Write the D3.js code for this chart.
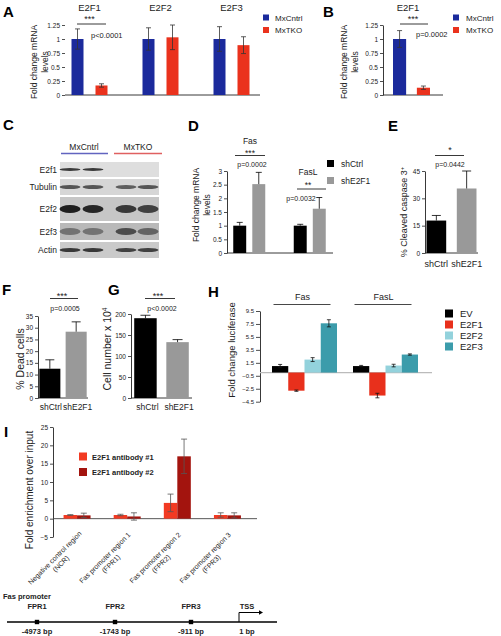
<!DOCTYPE html>
<html><head><meta charset="utf-8">
<script src="https://cdn.jsdelivr.net/npm/d3@7"></script>
<style>body{margin:0;background:#fff}svg{display:block;font-family:"Liberation Sans",Arial,sans-serif}</style>
</head><body><svg id="c" width="501" height="636"></svg>
<script>
// ---------------- DATA ----------------
// Panel A
const aGenes = ["E2F1","E2F2","E2F3"];
const aGroups = ["MxCntrl","MxTKO"];
const aMean = [[1.00,0.17],[1.00,1.03],[1.00,0.89]];
const aErr = [[0.18,0.03],[0.20,0.22],[0.22,0.15]];
const aTicks = [0,0.25,0.5,0.75,1,1.25];
const aP = "p<0.0001";
// Panel B
const bGene = "E2F1";
const bMean = [1.00,0.13];
const bErr = [0.15,0.03];
const bP = "p=0.0002";
// Panel C (western blot)
const cGroups = ["MxCntrl","MxTKO"];
const cRows = ["E2f1","Tubulin","E2f2","E2f3","Actin"];
const cBands = [[0.85,0.85,0,0],[0.7,0.7,0.65,0.7],[1,0.95,0.85,0.8],[0.45,0.45,0.7,0.55],[0.85,0.85,0.8,0.8]];
// Panel D
const dGenes = ["Fas","FasL"];
const dGroups = ["shCtrl","shE2F1"];
const dMean = [[1.00,2.52],[1.00,1.62]];
const dErr = [[0.12,0.43],[0.05,0.41]];
const dTicks = [0,0.5,1,1.5,2,2.5,3];
const dStars = ["***","**"];
const dP = ["p=0.0002","p=0.0032"];
// Panel E
const eGroups = ["shCtrl","shE2F1"];
const eMean = [17.8,35.4];
const eErr = [2.8,9.6];
const eTicks = [0,15,30,45];
// Panel F
const fGroups = ["shCtrl","shE2F1"];
const fMean = [12.5,28.3];
const fErr = [3.8,4.2];
const fTicks = [0,5,10,15,20,25,30,35];
// Panel G
const gGroups = ["shCtrl","shE2F1"];
const gMean = [190,133];
const gErr = [7,6];
const gTicks = [0,50,100,150,200];
// Panel H
const hGenes = ["Fas","FasL"];
const hSeries = ["EV","E2F1","E2F2","E2F3"];
const hMean = [[1.0,-2.8,2.0,7.6],[1.0,-3.55,1.08,2.78]];
const hErr = [[0.25,0.1,0.3,0.55],[0.1,0.35,0.2,0.1]];
const hTicks = [-4.5,-2.5,-0.5,1.5,3.5,5.5,7.5,9.5];
// Panel I
const iRegions = ["Negative control region","Fas promoter region 1","Fas promoter region 2","Fas promoter region 3"];
const iAbbr = ["(NCR)","(FPR1)","(FPR2)","(FPR3)"];
const iSeries = ["E2F1 antibody #1","E2F1 antibody #2"];
const iMean = [[1.0,0.9],[1.0,0.6],[4.3,17.0],[1.0,0.9]];
const iErr = [[0.1,0.6],[0.2,1.0],[2.4,4.7],[0.6,0.7]];
const iTicks = [-5,0,5,10,15,20,25];
// Promoter diagram
const pSites = ["FPR1","FPR2","FPR3","TSS"];
const pPos = [-4973,-1743,-911,1];

// ---------------- HELPERS ----------------
const svg = d3.select("#c");
const INK = "#222";
function txt(t,x,y,size,o={}){
  const e=svg.append("text").attr("x",x).attr("y",y).attr("font-size",size)
    .attr("text-anchor",o.anchor||"start").attr("fill",o.fill||INK);
  if(o.bold) e.attr("font-weight","bold");
  return e.text(t);
}
function letter(t,x,y){ txt(t,x,y,15,{bold:true,fill:"#000"}); }
function vlabel(lines,x,y,size,gap){
  const e=svg.append("text").attr("transform",`translate(${x},${y}) rotate(-90)`)
    .attr("text-anchor","middle").attr("font-size",size).attr("fill",INK);
  lines.forEach((l,i)=>e.append("tspan").attr("x",0).attr("dy",i?gap:0).text(l));
  return e;
}
function yAxis(y,x,ticks,fmt,size,domain=true,tick=3){
  const g=svg.append("g").attr("transform",`translate(${x},0)`)
    .call(d3.axisLeft(y).tickValues(ticks).tickFormat(fmt).tickSizeOuter(0).tickSizeInner(tick).tickPadding(2));
  g.attr("font-family",null).attr("font-size",size);
  g.selectAll("text").attr("fill",INK);
  g.selectAll("line").attr("stroke",INK).attr("stroke-width",0.8);
  g.select(".domain").attr("stroke",domain?INK:"none").attr("stroke-width",0.9);
  return g;
}
function hline(x1,x2,y,color=INK,w=0.9){ svg.append("line").attr("x1",x1).attr("x2",x2).attr("y1",y).attr("y2",y).attr("stroke",color).attr("stroke-width",w); }
function errBar(cx,yHi,yLo,cap,color=INK,both=true,w=0.8){
  svg.append("line").attr("x1",cx).attr("x2",cx).attr("y1",yHi).attr("y2",yLo).attr("stroke",color).attr("stroke-width",w);
  hline(cx-cap/2,cx+cap/2,yHi,color,w);
  if(both) hline(cx-cap/2,cx+cap/2,yLo,color,w);
}
function bar(x,w,y0,y1,fill){
  svg.append("rect").attr("x",x).attr("width",w).attr("y",Math.min(y0,y1)).attr("height",Math.abs(y1-y0)).attr("fill",fill);
}
const fmtA = d=>d3.format("")(d);

// ---------------- PANEL A ----------------
letter("A",3,17);
const aColors=["#1b2a9c","#ea321d"];
const aY=d3.scaleLinear().domain([0,1.25]).range([95,25]);
const aX=d3.scaleBand().domain(aGenes).range([54,267]);
yAxis(aY,65,aTicks,fmtA,6.5,false);
hline(65,260,aY(0));
aGenes.forEach((gn,i)=>{
  const c=aX(gn)+aX.bandwidth()/2;
  const inner=d3.scaleBand().domain(aGroups).range([c-18,c+18]).paddingInner(0.5);
  aGroups.forEach((gr,j)=>{
    const v=aMean[i][j];
    bar(inner(gr),inner.bandwidth(),aY(0),aY(v),aColors[j]);
    errBar(inner(gr)+inner.bandwidth()/2,aY(v+aErr[i][j]),aY(v-aErr[i][j]),5,"#333");
  });
  txt(gn,c,10.5,9.5,{anchor:"middle"});
});
txt("***",aX("E2F1")+aX.bandwidth()/2,22,9,{anchor:"middle"});
hline(77,106,24);
txt(aP,91,38,7.5);
vlabel(["Fold change mRNA","levels"],37,62,8.5,10.5);
aGroups.forEach((gr,j)=>{
  svg.append("rect").attr("x",263).attr("y",14.5+j*12.5).attr("width",6).attr("height",6).attr("fill",aColors[j]);
  txt(gr,275,20.5+j*12.5,8);
});

// ---------------- PANEL B ----------------
letter("B",323,17);
const bY=aY.copy();
const bX=d3.scaleBand().domain(aGroups).range([393,430]).paddingInner(0.45);
yAxis(bY,383,aTicks,fmtA,6.5,true);
hline(383,443,bY(0));
aGroups.forEach((gr,j)=>{
  const v=bMean[j];
  bar(bX(gr),bX.bandwidth(),bY(0),bY(v),aColors[j]);
  errBar(bX(gr)+bX.bandwidth()/2,bY(v+bErr[j]),bY(v-bErr[j]),5,"#333");
});
txt(bGene,408,10.5,9.5,{anchor:"middle"});
txt("***",413,22,9,{anchor:"middle"});
hline(400,428,24);
txt(bP,416,37,7.5);
vlabel(["Fold change mRNA","levels"],347,62,8.5,10.5);
aGroups.forEach((gr,j)=>{
  svg.append("rect").attr("x",453).attr("y",14.5+j*12.5).attr("width",6).attr("height",6).attr("fill",aColors[j]);
  txt(gr,466,20.5+j*12.5,8);
});

// ---------------- PANEL C ----------------
letter("C",3,130);
const cRowTop=[162,179,197,223,242], cRowH=[15,16,24,17,16], cBandH=[3,4,8,7,4];
const cBg=["#dedede","#d6d6d6","#c6c6c6","#b9b9b9","#cacaca"];
const lanes=[70,93,126,148];
txt(cGroups[0],84,150,8.5,{anchor:"middle"});
txt(cGroups[1],138,150,8.5,{anchor:"middle"});
hline(61,108,153.5,"#6264c0",1.3);
hline(114,162,153.5,"#e06060",1.3);
cRows.forEach((r,i)=>{
  svg.append("rect").attr("x",60).attr("y",cRowTop[i]).attr("width",99).attr("height",cRowH[i]).attr("fill",cBg[i]);
  const cy=cRowTop[i]+cRowH[i]/2;
  cBands[i].forEach((b,k)=>{
    if(b>0) svg.append("ellipse").attr("cx",lanes[k]).attr("cy",cy).attr("rx",10.5).attr("ry",cBandH[i]/2)
      .attr("fill","#1e1e1e").attr("opacity",b);
  });
  txt(r,57,cy+3,8.5,{anchor:"end"});
});

// ---------------- PANEL D ----------------
letter("D",188,131);
const dColors=["#000","#999"];
const dY=d3.scaleLinear().domain([0,3]).range([253,171]);
const dX=d3.scaleBand().domain(dGenes).range([219,340]);
yAxis(dY,227,dTicks,fmtA,6.5,true);
hline(227,333,dY(0));
dGenes.forEach((gn,i)=>{
  const c=dX(gn)+dX.bandwidth()/2;
  const inner=d3.scaleBand().domain(dGroups).range([c-16,c+16]).paddingInner(0.32);
  dGroups.forEach((gr,j)=>{
    const v=dMean[i][j];
    bar(inner(gr),inner.bandwidth(),dY(0),dY(v),dColors[j]);
    errBar(inner(gr)+inner.bandwidth()/2,dY(v+dErr[i][j]),dY(v),6,"#000",false);
  });
});
txt("Fas",250,143.5,8.5,{anchor:"middle"});
txt(dStars[0],250,156,8.5,{anchor:"middle"});
hline(235,265,155.5);
txt(dP[0],252,167,7,{anchor:"middle"});
txt("FasL",308,175,8.5,{anchor:"middle"});
txt(dStars[1],308,188,8.5,{anchor:"middle"});
hline(297,326,189);
txt(dP[1],301,201,7,{anchor:"middle"});
vlabel(["Fold change mRNA","levels"],199,205,8.5,11);
dGroups.forEach((gr,j)=>{
  svg.append("rect").attr("x",327).attr("y",160+j*17).attr("width",7).attr("height",7).attr("fill",dColors[j]);
  txt(gr,341,166.5+j*17,8.5);
});

// ---------------- PANEL E ----------------
letter("E",388,131);
const eY=d3.scaleLinear().domain([0,45]).range([253,171]);
const eX=d3.scaleBand().domain(eGroups).range([425,478]).paddingInner(0.35).paddingOuter(0.05);
yAxis(eY,425,eTicks,fmtA,6.5,true);
hline(425,478,eY(0));
eGroups.forEach((gr,j)=>{
  bar(eX(gr),eX.bandwidth(),eY(0),eY(eMean[j]),dColors[j]);
  errBar(eX(gr)+eX.bandwidth()/2,eY(eMean[j]+eErr[j]),eY(eMean[j]),9,"#000",false);
  txt(gr,eX(gr)+eX.bandwidth()/2,267,9,{anchor:"middle"});
});
txt("*",450,153,9,{anchor:"middle"});
hline(435,464,155.5);
txt("p=0.0442",450,167,7,{anchor:"middle"});
{
  const e=vlabel(["% Cleaved caspase 3"],407,212,9,0);
  e.append("tspan").attr("dy",-3.5).attr("font-size",6).text("+");
}

// ---------------- PANEL F ----------------
letter("F",2,295);
const fY=d3.scaleLinear().domain([0,35]).range([398,316]);
const fX=d3.scaleBand().domain(fGroups).range([38,88]).paddingInner(0.2).paddingOuter(0.05);
yAxis(fY,38,fTicks,fmtA,6.5,true);
hline(38,88,fY(0));
fGroups.forEach((gr,j)=>{
  bar(fX(gr),fX.bandwidth(),fY(0),fY(fMean[j]),dColors[j]);
  errBar(fX(gr)+fX.bandwidth()/2,fY(fMean[j]+fErr[j]),fY(fMean[j]),9,"#000",false);
  txt(gr,fX(gr)+fX.bandwidth()/2+(j?1.5:1),410,8.5,{anchor:"middle"});
});
txt("***",62,299,9,{anchor:"middle"});
hline(50,78,298.5);
txt("p=0.0005",65,311,7,{anchor:"middle"});
vlabel(["% Dead cells"],24,359,10.5,0);

// ---------------- PANEL G ----------------
letter("G",108,295);
const gY=d3.scaleLinear().domain([0,200]).range([398,314]);
const gX=d3.scaleBand().domain(gGroups).range([131,192]).paddingInner(0.3).paddingOuter(0.1);
yAxis(gY,131,gTicks,fmtA,6.5,true);
hline(131,192,gY(0));
gGroups.forEach((gr,j)=>{
  bar(gX(gr),gX.bandwidth(),gY(0),gY(gMean[j]),dColors[j]);
  errBar(gX(gr)+gX.bandwidth()/2,gY(gMean[j]+gErr[j]),gY(gMean[j]),10,"#000",false);
  txt(gr,gX(gr)+gX.bandwidth()/2+(j?1.5:2),410,8.5,{anchor:"middle"});
});
txt("***",158,299,9,{anchor:"middle"});
hline(145,175,298.5);
txt("p<0.0002",162,311,7,{anchor:"middle"});
{
  const e=vlabel(["Cell number x 10"],111,349,10.5,0);
  e.append("tspan").attr("dy",-4).attr("font-size",6.5).text("4");
}

// ---------------- PANEL H ----------------
letter("H",208,297);
const hColors=["#000","#e8301c","#93d2dc","#3c9cab"];
const hY=d3.scaleLinear().domain([-4.5,9.5]).range([401.7,311]);
const hX=d3.scaleBand().domain(hGenes).range([264,426]);
yAxis(hY,260,hTicks,d3.format(".1f"),6,true,4);
hline(260,432,hY(0),"#bbb",1.2);
hGenes.forEach((gn,i)=>{
  const c=hX(gn)+hX.bandwidth()/2;
  const inner=d3.scaleBand().domain(hSeries).range([c-32.5,c+32.5]);
  hSeries.forEach((s,j)=>{
    const v=hMean[i][j];
    bar(inner(s),inner.bandwidth(),hY(0),hY(v),hColors[j]);
    errBar(inner(s)+inner.bandwidth()/2,hY(v+hErr[i][j]),hY(v-hErr[i][j]),4,"#111");
  });
  txt(gn,c-2,300,9,{anchor:"middle"});
  hline(c-31,c+26,304.5,"#333",0.9);
});
vlabel(["Fold change luciferase"],235,350,9.5,0);
hSeries.forEach((s,j)=>{
  svg.append("rect").attr("x",445).attr("y",309.5+j*11).attr("width",8).attr("height",8).attr("fill",hColors[j]);
  txt(s,460,317+j*11,9.5);
});

// ---------------- PANEL I ----------------
txt("I",4,437,15,{bold:true,fill:"#000"});
const iColors=["#f23a22","#a3140e"];
const iY=d3.scaleLinear().domain([-5,25]).range([537,427]);
const iX=d3.scaleBand().domain(iRegions).range([52,252.5]);
yAxis(iY,53,iTicks,fmtA,6.5,true);
hline(53,257,iY(0),"#444",0.9);
iRegions.forEach((r,i)=>{
  const c=iX(r)+iX.bandwidth()/2;
  const inner=d3.scaleBand().domain(iSeries).range([c-13.5,c+13.5]);
  iSeries.forEach((s,j)=>{
    const v=iMean[i][j];
    bar(inner(s),inner.bandwidth(),iY(0),iY(v),iColors[j]);
    errBar(inner(s)+inner.bandwidth()/2,iY(v+iErr[i][j]),iY(Math.max(v-iErr[i][j],-0.4)),6,"#555");
  });
  const t=svg.append("text").attr("transform",`translate(${c-20.5},559.5) rotate(-45)`)
    .attr("text-anchor","middle").attr("font-size",7).attr("fill",INK);
  t.append("tspan").attr("x",0).attr("dy",0).text(r);
  t.append("tspan").attr("x",0).attr("dy",8.5).text(iAbbr[i]);
});
vlabel(["Fold enrichment over input"],33,490,10,0);
iSeries.forEach((s,j)=>{
  svg.append("rect").attr("x",79).attr("y",452.5+j*15.5).attr("width",8).attr("height",8).attr("fill",iColors[j]);
  txt(s,92,459.5+j*15.5,7.5,{bold:true});
});

// ---------------- PROMOTER DIAGRAM ----------------
const pX=d3.scaleLinear().domain(pPos).range([37,115,191,245]);
txt("Fas promoter",3,599,7.5,{bold:true});
hline(7,277,622,"#000",1.6);
pSites.forEach((s,i)=>{
  const x=pX(pPos[i]);
  txt(s,i<3?x:x+2,609,7.5,{bold:true,anchor:"middle"});
  txt(pPos[i]+" bp",i<3?x:x+2,634,7.5,{bold:true,anchor:"middle"});
  if(i<3) svg.append("rect").attr("x",x-2.2).attr("y",619.8).attr("width",4.4).attr("height",4.4).attr("fill","#000");
});
{
  const x=pX(pPos[3])-6;
  svg.append("path").attr("d",`M${x},622V612.5H${x+22}`).attr("fill","none").attr("stroke","#000").attr("stroke-width",1);
  svg.append("path").attr("d",`M${x+24},612.5l-4,-2.2v4.4z`).attr("fill","#000");
}
</script></body></html>
